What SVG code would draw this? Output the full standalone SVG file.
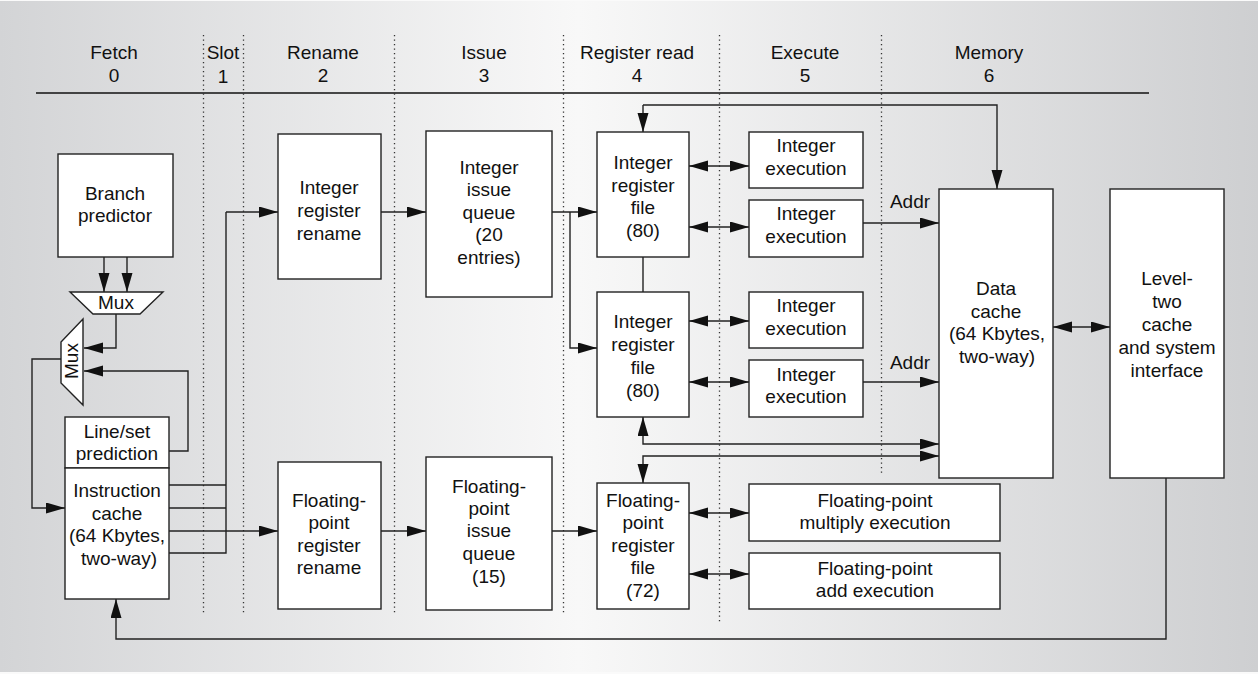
<svg xmlns="http://www.w3.org/2000/svg" width="1258" height="674" viewBox="0 0 1258 674">
<defs>
<linearGradient id="bg" x1="0" y1="0" x2="1" y2="0">
<stop offset="0" stop-color="#d3d4d6"/>
<stop offset="0.46" stop-color="#f8f8f8"/>
<stop offset="1" stop-color="#cecfd1"/>
</linearGradient>
<marker id="ah" markerUnits="userSpaceOnUse" markerWidth="20" markerHeight="12" refX="19" refY="5.5" orient="auto-start-reverse">
<path d="M0,0 L19,5.5 L0,11 z" fill="#111"/>
</marker>
<style>
.box{fill:#fff;stroke:#222;stroke-width:1.4}
.ln{fill:none;stroke:#222;stroke-width:1.4}
.dot{fill:none;stroke:#333;stroke-width:1.3;stroke-dasharray:1.3 3.2}
.a{marker-end:url(#ah)}
.aa{marker-start:url(#ah);marker-end:url(#ah)}
text{font-family:"Liberation Sans",Arial,sans-serif;font-size:19px;fill:#111;text-anchor:middle}
</style>
</defs>
<rect x="0" y="0" width="1258" height="674" fill="#fafafa"/>
<rect x="0" y="1" width="1258" height="671" fill="url(#bg)"/>

<g id="header">
<text x="114" y="59">Fetch</text><text x="114" y="82">0</text>
<text x="223" y="59">Slot</text><text x="223" y="83">1</text>
<text x="323" y="59">Rename</text><text x="323" y="82">2</text>
<text x="484" y="59">Issue</text><text x="484" y="82">3</text>
<text x="637" y="59">Register read</text><text x="637" y="82">4</text>
<text x="805" y="59">Execute</text><text x="805" y="82">5</text>
<text x="989" y="59">Memory</text><text x="989" y="82">6</text>
<line x1="36" y1="93" x2="1149" y2="93" stroke="#111" stroke-width="1.5"/>
<line class="dot" x1="203.5" y1="35" x2="203.5" y2="613"/>
<line class="dot" x1="243.5" y1="35" x2="243.5" y2="613"/>
<line class="dot" x1="394.5" y1="35" x2="394.5" y2="613"/>
<line class="dot" x1="563.5" y1="35" x2="563.5" y2="614"/>
<line class="dot" x1="719.5" y1="35" x2="719.5" y2="623"/>
<line class="dot" x1="881.5" y1="35" x2="881.5" y2="473"/>
</g>

<g id="connectors">
<line class="ln a" x1="104" y1="257" x2="104" y2="292"/>
<line class="ln a" x1="127" y1="257" x2="127" y2="292"/>
<path class="ln a" d="M116,314 L116,348 L84,348"/>
<path class="ln a" d="M169,451 L188,451 L188,371 L84,371"/>
<path class="ln a" d="M61,359 L32,359 L32,508 L65,508"/>
<path class="ln" d="M169,485 L226,485 M169,508 L226,508 M169,553 L226,553 L226,212"/>
<path class="ln a" d="M226,212 L278,212"/>
<path class="ln a" d="M169,531 L278,531"/>
<path class="ln a" d="M381,212 L426,212"/>
<path class="ln a" d="M381,531 L426,531"/>
<path class="ln a" d="M552,212 L597,212"/>
<path class="ln a" d="M570,212 L570,348 L597,348"/>
<path class="ln a" d="M552,531 L597,531"/>
<line class="ln" x1="643" y1="257" x2="643" y2="292"/>
<line class="ln aa" x1="689" y1="166" x2="749" y2="166"/>
<line class="ln aa" x1="689" y1="227" x2="749" y2="227"/>
<line class="ln aa" x1="689" y1="321" x2="749" y2="321"/>
<line class="ln aa" x1="689" y1="382" x2="749" y2="382"/>
<line class="ln aa" x1="689" y1="513" x2="749" y2="513"/>
<line class="ln aa" x1="689" y1="574" x2="749" y2="574"/>
<line class="ln a" x1="863" y1="223" x2="939" y2="223"/>
<line class="ln a" x1="863" y1="382" x2="939" y2="382"/>
<path class="ln a" d="M643,105 L643,132"/>
<path class="ln a" d="M643,105 L997,105 L997,189"/>
<path class="ln aa" d="M643,417 L643,444 L939,444"/>
<path class="ln aa" d="M643,483 L643,456 L939,456"/>
<line class="ln aa" x1="1053" y1="327" x2="1110" y2="327"/>
<path class="ln a" d="M1166,478 L1166,639 L116,639 L116,599"/>
<text x="910" y="208">Addr</text>
<text x="910" y="369">Addr</text>
</g>

<g id="branch-predictor">
<rect class="box" x="58" y="154" width="115" height="103"/>
<text x="115" y="200">Branch</text><text x="115" y="222">predictor</text>
</g>
<g id="mux-h">
<polygon class="box" points="70,292 163,292 140,314 93,314"/>
<text x="116" y="309">Mux</text>
</g>
<g id="mux-v">
<polygon class="box" points="83,319 83,405 61,383 61,342"/>
<text transform="translate(78,361) rotate(-90)">Mux</text>
</g>
<g id="line-set-prediction">
<rect class="box" x="65" y="417" width="104" height="51"/>
<text x="117" y="438">Line/set</text><text x="117" y="460">prediction</text>
</g>
<g id="instruction-cache">
<rect class="box" x="65" y="468" width="104" height="131"/>
<text x="117" y="497">Instruction</text><text x="117" y="520">cache</text><text x="117" y="542">(64 Kbytes,</text><text x="119" y="565">two-way)</text>
</g>
<g id="int-rename">
<rect class="box" x="278" y="134" width="103" height="145"/>
<text x="329" y="194">Integer</text><text x="329" y="217">register</text><text x="329" y="240">rename</text>
</g>
<g id="fp-rename">
<rect class="box" x="278" y="462" width="103" height="147"/>
<text x="329" y="507">Floating-</text><text x="329" y="529">point</text><text x="329" y="552">register</text><text x="329" y="574">rename</text>
</g>
<g id="int-issue-queue">
<rect class="box" x="426" y="131" width="126" height="166"/>
<text x="489" y="174">Integer</text><text x="489" y="196">issue</text><text x="489" y="219">queue</text><text x="489" y="241">(20</text><text x="489" y="264">entries)</text>
</g>
<g id="fp-issue-queue">
<rect class="box" x="426" y="457" width="126" height="153"/>
<text x="489" y="493">Floating-</text><text x="489" y="515">point</text><text x="489" y="537">issue</text><text x="489" y="560">queue</text><text x="489" y="583">(15)</text>
</g>
<g id="int-regfile-1">
<rect class="box" x="597" y="132" width="92" height="125"/>
<text x="643" y="169">Integer</text><text x="643" y="192">register</text><text x="643" y="214">file</text><text x="643" y="237">(80)</text>
</g>
<g id="int-regfile-2">
<rect class="box" x="597" y="292" width="92" height="125"/>
<text x="643" y="328">Integer</text><text x="643" y="351">register</text><text x="643" y="374">file</text><text x="643" y="397">(80)</text>
</g>
<g id="fp-regfile">
<rect class="box" x="597" y="483" width="92" height="126"/>
<text x="643" y="507">Floating-</text><text x="643" y="529">point</text><text x="643" y="552">register</text><text x="643" y="574">file</text><text x="643" y="597">(72)</text>
</g>
<g id="int-exec-1">
<rect class="box" x="749" y="132" width="114" height="56"/>
<text x="806" y="152">Integer</text><text x="806" y="175">execution</text>
</g>
<g id="int-exec-2">
<rect class="box" x="749" y="200" width="114" height="57"/>
<text x="806" y="220">Integer</text><text x="806" y="243">execution</text>
</g>
<g id="int-exec-3">
<rect class="box" x="749" y="292" width="114" height="56"/>
<text x="806" y="312">Integer</text><text x="806" y="335">execution</text>
</g>
<g id="int-exec-4">
<rect class="box" x="749" y="360" width="114" height="57"/>
<text x="806" y="381">Integer</text><text x="806" y="403">execution</text>
</g>
<g id="fp-mul">
<rect class="box" x="749" y="484" width="251" height="57"/>
<text x="875" y="507">Floating-point</text><text x="875" y="529">multiply execution</text>
</g>
<g id="fp-add">
<rect class="box" x="749" y="553" width="251" height="56"/>
<text x="875" y="575">Floating-point</text><text x="875" y="597">add execution</text>
</g>
<g id="data-cache">
<rect class="box" x="939" y="189" width="114" height="289"/>
<text x="996" y="295">Data</text><text x="996" y="318">cache</text><text x="997" y="340">(64 Kbytes,</text><text x="997" y="363">two-way)</text>
</g>
<g id="level-two">
<rect class="box" x="1110" y="189" width="114" height="289"/>
<text x="1167" y="285">Level-</text><text x="1167" y="308">two</text><text x="1167" y="331">cache</text><text x="1167" y="354">and system</text><text x="1167" y="377">interface</text>
</g>
</svg>
